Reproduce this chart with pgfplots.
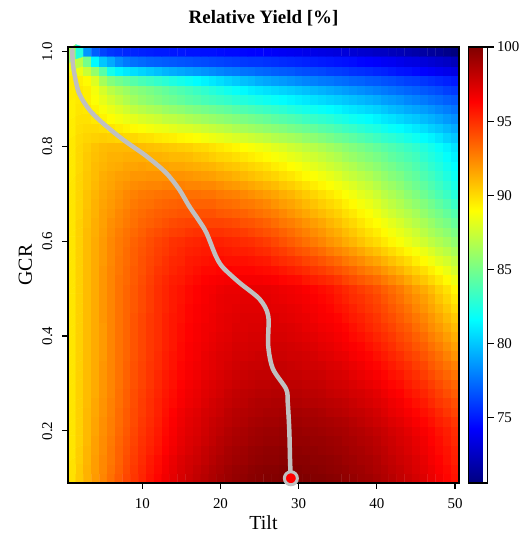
\documentclass[border=0pt]{standalone}
\usepackage{pgfplots}
\pgfplotsset{compat=1.18}
\usepackage{fontspec}
\setmainfont{Liberation Serif}
\pgfplotsset{/pgf/number format/assume math mode=true}
\definecolor{lgrey}{RGB}{192,192,192}
\begin{document}
\begin{tikzpicture}
\useasboundingbox (0,0) rectangle (526bp,534bp);
\begin{axis}[
  at={(68bp,51bp)}, anchor=south west,
  width=391bp, height=436bp, scale only axis,
  xmin=0.5, xmax=50.5, ymin=0.09, ymax=1.01,
  xtick={10,20,30,40,50}, ytick={0.2,0.4,0.6,0.8,1.0},
  tick pos=left, tick align=outside, major tick length=6bp,
  tick style={line width=1.2bp, black},
  axis line style={line width=1.6bp},
  ticklabel style={font=\fontsize{15}{18}\selectfont},
  xticklabel style={anchor=base, yshift=-20bp},
  yticklabel style={rotate=90, anchor=base, yshift=10bp, /pgf/number format/fixed, /pgf/number format/fixed zerofill, /pgf/number format/precision=1},
  xlabel={Tilt}, ylabel={GCR},
  label style={font=\fontsize{20}{24}\selectfont},
  xlabel style={at={(axis description cs:0.5,-0.1071)}, anchor=base},
  ylabel style={at={(axis description cs:-0.0921,0.5)}, anchor=base},
  title={\textbf{Relative Yield [\%]}},
  title style={font=\fontsize{19}{22}\selectfont, at={(0.5,1.0413)}, anchor=base},
  colormap/jet,
  point meta min=70.6, point meta max=100,
  colorbar,
  colorbar style={
    at={(parent axis.north east)}, anchor=north west, xshift=1bp,
    width=19bp, scale only axis,
    ytick={75,80,85,90,95,100},
    ytick pos=right,
    yticklabel style={font=\fontsize{15}{18}\selectfont},
    tick align=outside, major tick length=6bp,
    tick style={line width=1.2bp, black},
    axis line style={line width=1.6bp},
  },
  clip=false,
  axis on top,
]
\addplot[matrix plot*, mesh/cols=50, point meta=explicit]
 table[header=false, row sep=\\, x expr={mod(\coordindex,50)+1}, y expr={0.1+0.02*floor(\coordindex/50)}, meta index=0] {
89.8\\90.5\\91.2\\91.9\\92.5\\93.1\\93.7\\94.3\\94.8\\95.3\\95.8\\96.2\\96.7\\97.1\\97.5\\97.8\\98.1\\98.4\\98.7\\99.0\\99.2\\99.4\\99.5\\99.7\\99.8\\99.9\\99.9\\100.0\\100.0\\100.0\\100.0\\99.9\\99.9\\99.8\\99.7\\99.5\\99.4\\99.2\\99.1\\98.9\\98.6\\98.4\\98.1\\97.9\\97.6\\97.3\\96.9\\96.6\\96.2\\95.8\\
89.8\\90.5\\91.2\\91.8\\92.4\\93.0\\93.6\\94.2\\94.7\\95.2\\95.7\\96.1\\96.6\\97.0\\97.4\\97.7\\98.0\\98.3\\98.6\\98.8\\99.1\\99.3\\99.4\\99.6\\99.7\\99.8\\99.8\\99.9\\99.9\\99.9\\99.8\\99.8\\99.7\\99.6\\99.5\\99.4\\99.2\\99.1\\98.9\\98.7\\98.5\\98.2\\98.0\\97.7\\97.4\\97.1\\96.8\\96.4\\96.1\\95.7\\
89.8\\90.4\\91.1\\91.8\\92.4\\92.9\\93.5\\94.1\\94.6\\95.1\\95.6\\96.0\\96.5\\96.9\\97.3\\97.6\\97.8\\98.1\\98.4\\98.7\\98.9\\99.1\\99.2\\99.4\\99.5\\99.6\\99.6\\99.7\\99.7\\99.7\\99.7\\99.6\\99.6\\99.5\\99.4\\99.2\\99.1\\98.9\\98.8\\98.6\\98.3\\98.1\\97.8\\97.6\\97.3\\97.0\\96.6\\96.3\\95.9\\95.5\\
89.7\\90.4\\91.1\\91.7\\92.3\\92.9\\93.5\\94.0\\94.5\\95.0\\95.4\\95.8\\96.3\\96.7\\97.1\\97.4\\97.7\\98.0\\98.3\\98.5\\98.8\\99.0\\99.1\\99.3\\99.4\\99.5\\99.5\\99.6\\99.6\\99.6\\99.5\\99.5\\99.4\\99.3\\99.2\\99.1\\98.9\\98.8\\98.6\\98.4\\98.2\\97.9\\97.7\\97.4\\97.1\\96.8\\96.5\\96.1\\95.8\\95.4\\
89.7\\90.3\\91.0\\91.7\\92.3\\92.8\\93.4\\93.9\\94.4\\94.9\\95.3\\95.7\\96.2\\96.6\\97.0\\97.3\\97.5\\97.8\\98.1\\98.4\\98.6\\98.8\\98.9\\99.1\\99.2\\99.3\\99.3\\99.4\\99.4\\99.4\\99.4\\99.3\\99.3\\99.2\\99.1\\98.9\\98.8\\98.6\\98.5\\98.3\\98.0\\97.8\\97.5\\97.3\\97.0\\96.7\\96.3\\96.0\\95.6\\95.2\\
89.7\\90.3\\91.0\\91.6\\92.2\\92.7\\93.3\\93.8\\94.3\\94.8\\95.2\\95.6\\96.1\\96.5\\96.9\\97.2\\97.4\\97.7\\98.0\\98.2\\98.5\\98.7\\98.8\\99.0\\99.1\\99.2\\99.2\\99.3\\99.3\\99.3\\99.2\\99.2\\99.1\\99.0\\98.9\\98.8\\98.6\\98.5\\98.3\\98.1\\97.9\\97.6\\97.4\\97.1\\96.8\\96.5\\96.2\\95.8\\95.5\\95.1\\
89.7\\90.3\\91.0\\91.6\\92.2\\92.7\\93.2\\93.7\\94.2\\94.7\\95.1\\95.5\\96.0\\96.4\\96.8\\97.1\\97.3\\97.6\\97.9\\98.1\\98.3\\98.5\\98.6\\98.8\\98.9\\99.0\\99.0\\99.1\\99.1\\99.1\\99.0\\99.0\\98.9\\98.8\\98.7\\98.6\\98.4\\98.2\\98.0\\97.8\\97.6\\97.3\\97.1\\96.8\\96.5\\96.2\\95.9\\95.5\\95.2\\94.8\\
89.7\\90.3\\91.0\\91.5\\92.1\\92.6\\93.2\\93.7\\94.2\\94.6\\95.0\\95.4\\95.9\\96.3\\96.7\\97.0\\97.2\\97.5\\97.7\\97.9\\98.2\\98.4\\98.5\\98.6\\98.7\\98.8\\98.8\\98.9\\98.9\\98.9\\98.8\\98.8\\98.7\\98.5\\98.4\\98.3\\98.1\\98.0\\97.8\\97.6\\97.3\\97.0\\96.8\\96.5\\96.2\\95.9\\95.6\\95.2\\94.8\\94.4\\
89.7\\90.3\\90.9\\91.5\\92.1\\92.6\\93.1\\93.6\\94.1\\94.6\\95.0\\95.4\\95.8\\96.1\\96.5\\96.8\\97.0\\97.3\\97.6\\97.8\\98.0\\98.2\\98.3\\98.5\\98.6\\98.6\\98.7\\98.7\\98.6\\98.6\\98.5\\98.5\\98.4\\98.3\\98.2\\98.1\\97.9\\97.7\\97.5\\97.3\\97.1\\96.8\\96.6\\96.2\\95.9\\95.6\\95.2\\94.8\\94.5\\94.1\\
89.7\\90.3\\90.9\\91.4\\92.0\\92.5\\93.1\\93.6\\94.1\\94.5\\94.9\\95.3\\95.7\\96.0\\96.4\\96.7\\96.9\\97.2\\97.4\\97.6\\97.9\\98.1\\98.2\\98.3\\98.4\\98.4\\98.5\\98.5\\98.4\\98.4\\98.3\\98.3\\98.2\\98.0\\97.9\\97.8\\97.6\\97.5\\97.3\\97.1\\96.8\\96.5\\96.3\\95.9\\95.6\\95.3\\94.9\\94.5\\94.1\\93.7\\
89.7\\90.3\\90.9\\91.4\\92.0\\92.5\\93.0\\93.5\\94.0\\94.4\\94.8\\95.2\\95.6\\95.9\\96.3\\96.6\\96.8\\97.1\\97.3\\97.5\\97.7\\97.9\\98.0\\98.1\\98.2\\98.2\\98.3\\98.3\\98.2\\98.2\\98.1\\98.1\\98.0\\97.8\\97.7\\97.6\\97.4\\97.2\\97.0\\96.8\\96.5\\96.2\\96.0\\95.6\\95.3\\95.0\\94.6\\94.2\\93.8\\93.4\\
89.7\\90.3\\90.9\\91.4\\92.0\\92.5\\93.0\\93.5\\94.0\\94.4\\94.8\\95.2\\95.6\\95.9\\96.2\\96.5\\96.7\\97.0\\97.2\\97.4\\97.6\\97.8\\97.9\\98.0\\98.1\\98.1\\98.1\\98.1\\98.0\\98.0\\97.9\\97.9\\97.8\\97.6\\97.5\\97.4\\97.1\\96.9\\96.7\\96.5\\96.2\\95.9\\95.7\\95.3\\95.0\\94.6\\94.2\\93.8\\93.4\\93.0\\
89.7\\90.3\\90.9\\91.4\\92.0\\92.5\\93.0\\93.5\\94.0\\94.4\\94.8\\95.1\\95.5\\95.8\\96.2\\96.5\\96.7\\96.9\\97.1\\97.3\\97.5\\97.7\\97.8\\97.9\\97.9\\98.0\\98.0\\98.0\\97.9\\97.8\\97.7\\97.7\\97.6\\97.4\\97.3\\97.1\\96.9\\96.7\\96.4\\96.2\\95.9\\95.6\\95.3\\95.0\\94.6\\94.3\\93.8\\93.4\\93.0\\92.6\\
89.7\\90.3\\90.9\\91.4\\91.9\\92.5\\93.0\\93.4\\93.9\\94.3\\94.7\\95.1\\95.5\\95.8\\96.1\\96.4\\96.6\\96.9\\97.1\\97.3\\97.4\\97.6\\97.6\\97.7\\97.8\\97.8\\97.8\\97.8\\97.7\\97.7\\97.6\\97.5\\97.3\\97.2\\97.0\\96.9\\96.6\\96.4\\96.2\\95.9\\95.6\\95.3\\95.0\\94.6\\94.3\\93.9\\93.5\\93.1\\92.6\\92.1\\
89.7\\90.3\\90.9\\91.4\\91.9\\92.5\\93.0\\93.4\\93.9\\94.3\\94.7\\95.0\\95.4\\95.7\\96.1\\96.4\\96.6\\96.8\\97.0\\97.2\\97.3\\97.5\\97.5\\97.6\\97.6\\97.7\\97.7\\97.7\\97.6\\97.5\\97.4\\97.3\\97.1\\97.0\\96.8\\96.6\\96.4\\96.2\\95.9\\95.6\\95.3\\95.0\\94.6\\94.3\\93.9\\93.6\\93.1\\92.7\\92.2\\91.7\\
89.7\\90.3\\90.9\\91.4\\91.9\\92.5\\93.0\\93.4\\93.9\\94.3\\94.7\\95.0\\95.4\\95.7\\96.0\\96.3\\96.5\\96.7\\96.9\\97.1\\97.2\\97.4\\97.4\\97.5\\97.5\\97.6\\97.5\\97.5\\97.4\\97.3\\97.2\\97.1\\96.9\\96.8\\96.6\\96.4\\96.1\\95.9\\95.6\\95.3\\95.0\\94.7\\94.3\\94.0\\93.6\\93.2\\92.7\\92.3\\91.8\\91.3\\
89.7\\90.3\\90.9\\91.4\\91.9\\92.5\\93.0\\93.4\\93.9\\94.3\\94.7\\95.0\\95.4\\95.7\\96.0\\96.3\\96.5\\96.7\\96.8\\97.0\\97.1\\97.3\\97.3\\97.4\\97.4\\97.5\\97.4\\97.4\\97.3\\97.2\\97.0\\96.9\\96.7\\96.6\\96.4\\96.2\\95.9\\95.6\\95.3\\95.0\\94.7\\94.4\\94.0\\93.7\\93.2\\92.8\\92.3\\91.9\\91.4\\90.9\\
89.7\\90.3\\90.9\\91.4\\92.0\\92.5\\93.0\\93.4\\93.9\\94.3\\94.7\\95.0\\95.4\\95.7\\95.9\\96.2\\96.4\\96.6\\96.8\\97.0\\97.1\\97.2\\97.3\\97.3\\97.3\\97.4\\97.3\\97.2\\97.1\\97.0\\96.9\\96.7\\96.5\\96.4\\96.2\\95.9\\95.6\\95.4\\95.1\\94.8\\94.4\\94.1\\93.7\\93.3\\92.9\\92.5\\92.0\\91.5\\91.0\\90.5\\
89.7\\90.3\\90.9\\91.4\\92.0\\92.5\\93.0\\93.4\\93.8\\94.2\\94.6\\95.0\\95.3\\95.6\\95.9\\96.2\\96.4\\96.6\\96.7\\96.9\\97.0\\97.1\\97.2\\97.2\\97.2\\97.2\\97.1\\97.1\\97.0\\96.9\\96.7\\96.6\\96.4\\96.2\\95.9\\95.7\\95.4\\95.1\\94.8\\94.5\\94.2\\93.8\\93.4\\93.0\\92.5\\92.1\\91.6\\91.1\\90.6\\90.0\\
89.7\\90.3\\90.9\\91.4\\92.0\\92.5\\93.0\\93.4\\93.8\\94.2\\94.6\\95.0\\95.3\\95.6\\95.8\\96.1\\96.3\\96.5\\96.7\\96.9\\97.0\\97.0\\97.1\\97.1\\97.1\\97.1\\97.0\\96.9\\96.8\\96.7\\96.6\\96.4\\96.2\\96.0\\95.7\\95.4\\95.1\\94.9\\94.6\\94.3\\93.9\\93.5\\93.1\\92.6\\92.2\\91.8\\91.3\\90.7\\90.2\\89.6\\
89.7\\90.3\\90.9\\91.4\\92.0\\92.5\\93.0\\93.4\\93.8\\94.2\\94.6\\95.0\\95.3\\95.6\\95.8\\96.1\\96.3\\96.5\\96.6\\96.8\\96.9\\96.9\\97.0\\97.0\\97.0\\97.0\\96.9\\96.8\\96.7\\96.6\\96.4\\96.2\\96.0\\95.8\\95.5\\95.2\\94.9\\94.6\\94.3\\94.0\\93.6\\93.2\\92.8\\92.3\\91.8\\91.4\\90.9\\90.3\\89.8\\89.2\\
89.7\\90.3\\90.9\\91.4\\92.0\\92.5\\93.0\\93.3\\93.7\\94.1\\94.5\\94.9\\95.2\\95.5\\95.6\\95.9\\96.1\\96.3\\96.4\\96.5\\96.6\\96.6\\96.6\\96.6\\96.6\\96.5\\96.4\\96.2\\96.1\\96.0\\95.7\\95.5\\95.3\\95.1\\94.8\\94.4\\94.1\\93.8\\93.5\\93.2\\92.8\\92.4\\92.0\\91.5\\91.0\\90.6\\90.1\\89.6\\89.1\\88.5\\
89.7\\90.3\\90.9\\91.4\\92.0\\92.5\\92.9\\93.3\\93.7\\94.0\\94.4\\94.8\\95.0\\95.3\\95.5\\95.7\\95.9\\96.1\\96.1\\96.2\\96.3\\96.2\\96.2\\96.2\\96.1\\96.0\\95.9\\95.7\\95.5\\95.3\\95.1\\94.8\\94.6\\94.3\\94.0\\93.7\\93.4\\93.0\\92.7\\92.4\\92.0\\91.6\\91.2\\90.7\\90.3\\89.9\\89.4\\88.9\\88.4\\87.8\\
89.7\\90.3\\90.9\\91.4\\91.9\\92.4\\92.9\\93.2\\93.6\\94.0\\94.3\\94.6\\94.9\\95.2\\95.3\\95.6\\95.7\\95.8\\95.9\\96.0\\95.9\\95.9\\95.9\\95.8\\95.7\\95.6\\95.3\\95.1\\94.9\\94.7\\94.4\\94.2\\93.9\\93.6\\93.3\\92.9\\92.6\\92.3\\91.9\\91.6\\91.2\\90.8\\90.4\\90.0\\89.5\\89.1\\88.6\\88.1\\87.7\\87.2\\
89.7\\90.3\\90.9\\91.4\\91.9\\92.4\\92.8\\93.2\\93.6\\93.9\\94.2\\94.5\\94.7\\95.0\\95.2\\95.4\\95.5\\95.6\\95.6\\95.7\\95.6\\95.5\\95.5\\95.4\\95.2\\95.1\\94.8\\94.6\\94.3\\94.0\\93.8\\93.5\\93.2\\92.8\\92.5\\92.2\\91.9\\91.5\\91.1\\90.8\\90.4\\90.0\\89.6\\89.2\\88.8\\88.4\\87.9\\87.4\\87.0\\86.5\\
89.7\\90.3\\90.9\\91.4\\91.9\\92.4\\92.8\\93.1\\93.5\\93.8\\94.1\\94.4\\94.6\\94.9\\95.0\\95.2\\95.3\\95.4\\95.4\\95.4\\95.3\\95.2\\95.1\\95.0\\94.8\\94.6\\94.3\\94.0\\93.7\\93.4\\93.1\\92.8\\92.5\\92.1\\91.8\\91.4\\91.1\\90.7\\90.3\\90.0\\89.6\\89.2\\88.8\\88.4\\88.0\\87.6\\87.1\\86.7\\86.3\\85.8\\
89.7\\90.3\\90.9\\91.3\\91.8\\92.3\\92.7\\93.0\\93.3\\93.6\\93.9\\94.1\\94.3\\94.5\\94.6\\94.8\\94.9\\94.9\\94.9\\94.9\\94.8\\94.7\\94.6\\94.4\\94.2\\94.0\\93.8\\93.5\\93.2\\92.9\\92.6\\92.3\\92.0\\91.6\\91.3\\90.9\\90.6\\90.2\\89.8\\89.5\\89.1\\88.7\\88.3\\87.9\\87.5\\87.0\\86.5\\86.1\\85.7\\85.2\\
89.7\\90.3\\90.8\\91.3\\91.7\\92.2\\92.5\\92.8\\93.1\\93.4\\93.6\\93.8\\94.0\\94.2\\94.3\\94.4\\94.4\\94.4\\94.4\\94.4\\94.3\\94.2\\94.0\\93.9\\93.7\\93.5\\93.2\\92.9\\92.7\\92.4\\92.1\\91.8\\91.5\\91.1\\90.8\\90.4\\90.1\\89.7\\89.3\\89.0\\88.6\\88.2\\87.8\\87.3\\86.9\\86.5\\86.0\\85.5\\85.1\\84.6\\
89.7\\90.2\\90.8\\91.2\\91.7\\92.0\\92.4\\92.7\\93.0\\93.2\\93.4\\93.6\\93.7\\93.8\\93.9\\93.9\\94.0\\94.0\\94.0\\93.8\\93.7\\93.6\\93.5\\93.3\\93.1\\92.9\\92.7\\92.4\\92.1\\91.8\\91.5\\91.2\\90.9\\90.6\\90.3\\89.9\\89.6\\89.2\\88.9\\88.5\\88.0\\87.6\\87.2\\86.8\\86.4\\85.9\\85.4\\85.0\\84.5\\84.0\\
89.7\\90.2\\90.7\\91.2\\91.6\\91.9\\92.2\\92.5\\92.8\\93.0\\93.1\\93.3\\93.4\\93.5\\93.6\\93.5\\93.5\\93.5\\93.5\\93.3\\93.2\\93.1\\92.9\\92.8\\92.6\\92.4\\92.1\\91.8\\91.6\\91.3\\91.0\\90.7\\90.4\\90.1\\89.8\\89.4\\89.1\\88.7\\88.4\\88.0\\87.5\\87.1\\86.7\\86.2\\85.8\\85.4\\84.9\\84.4\\83.9\\83.3\\
89.7\\90.2\\90.7\\91.1\\91.5\\91.8\\92.1\\92.4\\92.6\\92.8\\92.9\\93.0\\93.1\\93.1\\93.2\\93.1\\93.1\\93.0\\93.0\\92.8\\92.7\\92.6\\92.4\\92.2\\92.0\\91.8\\91.6\\91.3\\91.1\\90.8\\90.5\\90.2\\89.9\\89.6\\89.3\\88.9\\88.6\\88.2\\87.9\\87.5\\87.0\\86.6\\86.2\\85.7\\85.3\\84.8\\84.3\\83.8\\83.3\\82.7\\
89.7\\90.2\\90.6\\91.0\\91.4\\91.6\\91.9\\92.1\\92.3\\92.4\\92.5\\92.5\\92.6\\92.6\\92.6\\92.5\\92.5\\92.4\\92.4\\92.2\\92.0\\91.9\\91.7\\91.5\\91.3\\91.1\\90.9\\90.6\\90.4\\90.1\\89.8\\89.5\\89.2\\88.9\\88.6\\88.3\\88.0\\87.6\\87.3\\86.9\\86.4\\86.1\\85.7\\85.2\\84.8\\84.4\\83.9\\83.4\\82.9\\82.3\\
89.7\\90.2\\90.6\\90.9\\91.3\\91.5\\91.7\\91.8\\92.0\\92.0\\92.1\\92.1\\92.1\\92.1\\92.1\\92.0\\91.9\\91.8\\91.7\\91.5\\91.4\\91.2\\91.0\\90.8\\90.6\\90.4\\90.2\\89.9\\89.7\\89.4\\89.1\\88.9\\88.6\\88.3\\88.0\\87.6\\87.3\\87.0\\86.7\\86.3\\85.9\\85.5\\85.2\\84.7\\84.4\\83.9\\83.5\\83.0\\82.5\\81.9\\
89.6\\90.1\\90.5\\90.9\\91.1\\91.3\\91.4\\91.6\\91.6\\91.7\\91.6\\91.6\\91.6\\91.5\\91.5\\91.4\\91.3\\91.2\\91.1\\90.9\\90.7\\90.6\\90.4\\90.2\\90.0\\89.8\\89.5\\89.3\\89.0\\88.8\\88.5\\88.2\\87.9\\87.6\\87.3\\87.0\\86.7\\86.3\\86.0\\85.7\\85.3\\85.0\\84.6\\84.3\\83.9\\83.5\\83.0\\82.6\\82.1\\81.6\\
89.6\\90.1\\90.5\\90.8\\91.0\\91.2\\91.2\\91.3\\91.3\\91.3\\91.2\\91.2\\91.1\\91.0\\91.0\\90.9\\90.7\\90.6\\90.4\\90.2\\90.1\\89.9\\89.7\\89.5\\89.3\\89.1\\88.8\\88.6\\88.3\\88.1\\87.8\\87.6\\87.3\\87.0\\86.7\\86.3\\86.0\\85.7\\85.4\\85.1\\84.8\\84.4\\84.1\\83.8\\83.5\\83.0\\82.6\\82.2\\81.7\\81.2\\
89.6\\90.1\\90.4\\90.7\\90.9\\91.0\\91.0\\91.0\\91.0\\90.9\\90.8\\90.7\\90.6\\90.5\\90.4\\90.3\\90.1\\90.0\\89.8\\89.6\\89.4\\89.2\\89.0\\88.8\\88.6\\88.4\\88.1\\87.9\\87.6\\87.4\\87.1\\86.9\\86.6\\86.3\\86.0\\85.7\\85.4\\85.1\\84.8\\84.5\\84.2\\83.9\\83.6\\83.3\\83.0\\82.6\\82.2\\81.8\\81.3\\80.8\\
89.6\\90.0\\90.2\\90.3\\90.4\\90.3\\90.2\\90.1\\90.1\\89.9\\89.8\\89.6\\89.5\\89.4\\89.2\\89.1\\88.9\\88.7\\88.5\\88.3\\88.1\\87.9\\87.7\\87.5\\87.3\\87.1\\86.8\\86.6\\86.4\\86.2\\85.9\\85.7\\85.4\\85.1\\84.8\\84.6\\84.3\\84.0\\83.7\\83.4\\83.1\\82.9\\82.6\\82.3\\82.0\\81.6\\81.3\\80.9\\80.4\\80.0\\
89.5\\89.9\\90.0\\90.0\\89.9\\89.7\\89.5\\89.3\\89.1\\88.9\\88.7\\88.5\\88.4\\88.2\\88.0\\87.9\\87.7\\87.5\\87.3\\87.1\\86.9\\86.6\\86.4\\86.2\\86.0\\85.8\\85.6\\85.4\\85.1\\84.9\\84.7\\84.5\\84.2\\84.0\\83.7\\83.4\\83.2\\82.9\\82.6\\82.4\\82.1\\81.8\\81.6\\81.3\\81.0\\80.7\\80.3\\80.0\\79.6\\79.2\\
89.5\\89.8\\89.8\\89.6\\89.3\\89.0\\88.7\\88.4\\88.2\\87.9\\87.7\\87.5\\87.2\\87.1\\86.9\\86.6\\86.4\\86.2\\86.0\\85.8\\85.6\\85.4\\85.2\\85.0\\84.8\\84.6\\84.3\\84.1\\83.9\\83.7\\83.4\\83.2\\83.0\\82.8\\82.5\\82.3\\82.0\\81.8\\81.6\\81.3\\81.0\\80.8\\80.5\\80.2\\80.0\\79.7\\79.4\\79.1\\78.7\\78.4\\
89.4\\89.7\\89.6\\89.3\\88.8\\88.4\\88.0\\87.6\\87.2\\86.9\\86.6\\86.4\\86.1\\85.9\\85.7\\85.4\\85.2\\85.0\\84.8\\84.6\\84.4\\84.1\\83.9\\83.7\\83.5\\83.3\\83.1\\82.9\\82.6\\82.4\\82.2\\82.0\\81.8\\81.6\\81.4\\81.1\\80.9\\80.7\\80.5\\80.3\\80.0\\79.7\\79.5\\79.2\\79.0\\78.8\\78.5\\78.2\\77.9\\77.6\\
89.4\\89.6\\89.4\\88.9\\88.3\\87.7\\87.2\\86.7\\86.3\\85.9\\85.6\\85.3\\85.0\\84.8\\84.5\\84.2\\84.0\\83.7\\83.5\\83.3\\83.1\\82.8\\82.6\\82.4\\82.2\\82.0\\81.8\\81.6\\81.4\\81.2\\81.0\\80.8\\80.6\\80.4\\80.2\\80.0\\79.8\\79.6\\79.4\\79.2\\78.9\\78.7\\78.5\\78.2\\78.0\\77.8\\77.5\\77.3\\77.0\\76.8\\
89.5\\89.6\\89.4\\88.7\\87.8\\87.0\\86.5\\86.1\\85.7\\85.4\\85.1\\84.8\\84.5\\84.2\\83.9\\83.6\\83.3\\83.0\\82.7\\82.4\\82.1\\81.8\\81.5\\81.2\\81.0\\80.8\\80.6\\80.4\\80.2\\80.0\\79.8\\79.6\\79.4\\79.2\\79.0\\78.8\\78.6\\78.4\\78.2\\78.0\\77.8\\77.6\\77.4\\77.2\\77.0\\76.8\\76.6\\76.4\\76.1\\75.9\\
89.5\\89.4\\89.1\\88.0\\86.4\\85.4\\84.9\\84.5\\84.1\\83.7\\83.4\\83.1\\82.8\\82.5\\82.2\\81.9\\81.6\\81.3\\81.0\\80.7\\80.4\\80.1\\79.8\\79.6\\79.3\\79.1\\78.9\\78.7\\78.5\\78.3\\78.1\\78.0\\77.8\\77.7\\77.5\\77.4\\77.2\\77.1\\76.9\\76.8\\76.6\\76.5\\76.3\\76.1\\76.0\\75.8\\75.6\\75.4\\75.2\\75.0\\
89.3\\88.5\\87.4\\85.9\\84.2\\82.2\\81.4\\81.0\\80.7\\80.4\\80.1\\79.8\\79.5\\79.3\\79.1\\78.9\\78.7\\78.5\\78.3\\78.1\\77.9\\77.8\\77.6\\77.5\\77.3\\77.2\\77.0\\76.9\\76.8\\76.6\\76.5\\76.4\\76.3\\76.1\\76.0\\75.9\\75.7\\75.6\\75.5\\75.3\\75.2\\75.0\\74.8\\74.7\\74.5\\74.3\\74.1\\73.9\\73.7\\73.5\\
88.6\\87.0\\85.0\\81.5\\80.0\\79.2\\78.3\\77.8\\77.5\\77.3\\77.1\\77.0\\76.9\\76.8\\76.7\\76.6\\76.5\\76.4\\76.3\\76.2\\76.1\\76.0\\75.9\\75.8\\75.8\\75.7\\75.6\\75.5\\75.4\\75.3\\75.2\\75.1\\75.0\\74.9\\74.8\\74.7\\74.6\\74.4\\74.3\\74.2\\74.0\\73.9\\73.7\\73.5\\73.4\\73.2\\73.0\\72.8\\72.6\\72.3\\
86.5\\82.6\\78.6\\77.0\\76.2\\75.8\\75.6\\75.4\\75.3\\75.2\\75.1\\75.0\\75.0\\74.9\\74.9\\74.8\\74.8\\74.7\\74.7\\74.6\\74.5\\74.5\\74.4\\74.3\\74.3\\74.2\\74.1\\74.0\\73.9\\73.8\\73.7\\73.6\\73.5\\73.4\\73.3\\73.2\\73.0\\72.9\\72.8\\72.6\\72.5\\72.3\\72.2\\72.0\\71.8\\71.6\\71.4\\71.2\\70.9\\70.6\\
};
\addplot[lgrey, line width=4.5bp, smooth, tension=0.5, line cap=round] coordinates {
(1.05,1.003) (1.1,0.98) (1.3,0.955) (1.9,0.913) (3.2,0.878) (4.9,0.85) (7.5,0.815) (10.5,0.78) (13,0.745) (14.7,0.71) (16,0.674) (17.2,0.645) (18.2,0.618) (19.4,0.569) (20.3,0.545) (22.4,0.513) (25,0.478) (26.1,0.443) (26.1,0.38) (26.7,0.331) (28.4,0.288) (28.6,0.26) (28.8,0.2) (28.9,0.134) (29,0.1)
};
\addplot[only marks, mark=*, mark size=6.5bp, mark options={fill=red, draw=lgrey, line width=3bp}] coordinates {(29,0.1)};
\end{axis}
\end{tikzpicture}
\end{document}
